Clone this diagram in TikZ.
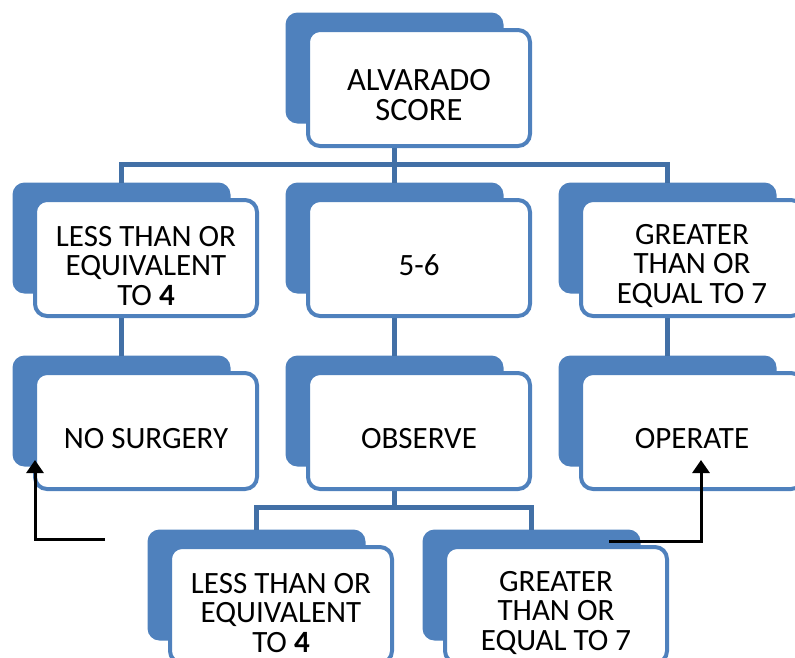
\documentclass[tikz,border=0pt]{standalone}
\usepackage{fontspec}
\setmainfont{Carlito}
\usetikzlibrary{arrows.meta,backgrounds}
\definecolor{smartblue}{HTML}{4F81BD}
\definecolor{linkblue}{HTML}{4270A6}
\newcommand{\lift}{\rule{0pt}{36pt}}

\begin{document}
\begin{tikzpicture}[x=1pt, y=-1pt,
		box/.style={draw=smartblue, line width=4pt, fill=white, rounded corners=12pt, minimum width=222pt, minimum height=116pt, outer sep=0pt, align=center, font=\fontsize{31}{29.5}\selectfont},
		back/.style={fill=smartblue, rounded corners=12pt, minimum width=218pt, minimum height=111pt, outer sep=0pt, inner sep=0pt},
		link/.style={draw=linkblue, line width=5pt},
		pointer/.style={draw=black, line width=3pt, -{Triangle[length=13pt, width=17pt]}}]
	\useasboundingbox (0,0) rectangle (795,657);

	% boxes
	\node[box, font=\fontsize{32.5}{30}\selectfont] (score)at(419, 88) {\lift ALVARADO\\SCORE};
	\node[box] (low)at(146, 258) {\lift LESS THAN OR\\EQUIVALENT\\TO \textbf{4}};
	\node[box] (mid)at(419, 258) {\lift 5-6};
	\node[box] (high)at(692, 258) {\lift GREATER\\THAN OR\\EQUAL TO 7};
	\node[box] (nosurg)at(146, 431) {\lift NO SURGERY};
	\node[box] (obs)at(419, 431) {\lift OBSERVE};
	\node[box] (op)at(692, 431) {\lift OPERATE};
	\node[box] (low2)at(281, 605) {\lift LESS THAN OR\\EQUIVALENT\\TO \textbf{4}};
	\node[box] (high2)at(556, 605) {\lift GREATER\\THAN OR\\EQUAL TO 7};

	\begin{pgfonlayer}{background}
		% shadows behind the boxes
		\foreach \n in {score, low, mid, high, nosurg, obs, op, low2, high2}
			\node[back] (\n S)at([shift={(-24.5,-20)}]\n.center) {};
		% connectors
		\coordinate (fork1)at(scoreS.south |- 0,164);
		\coordinate (fork2)at(obsS.south |- 0,507);
		\draw[link] (scoreS.south) -- (fork1) -- (midS.north);
		\draw[link] (lowS.north) |- (fork1) -| (highS.north);
		\draw[link] (lowS.south) -- (nosurgS.north);
		\draw[link] (midS.south) -- (obsS.north);
		\draw[link] (highS.south) -- (opS.north);
		\draw[link] (obsS.south) -- (fork2);
		\draw[link] (low2S.north) |- (fork2) -| (high2S.north);
	\end{pgfonlayer}

	% black arrows
	\coordinate (nsFrom)at(105, 539);
	\coordinate (nsTo)at(35, 460);
	\coordinate (opFrom)at(609, 541);
	\coordinate (opTo)at(701, 460);
	\draw[pointer] (nsFrom) -| (nsTo);
	\draw[pointer] (opFrom) -| (opTo);
\end{tikzpicture}
\end{document}
